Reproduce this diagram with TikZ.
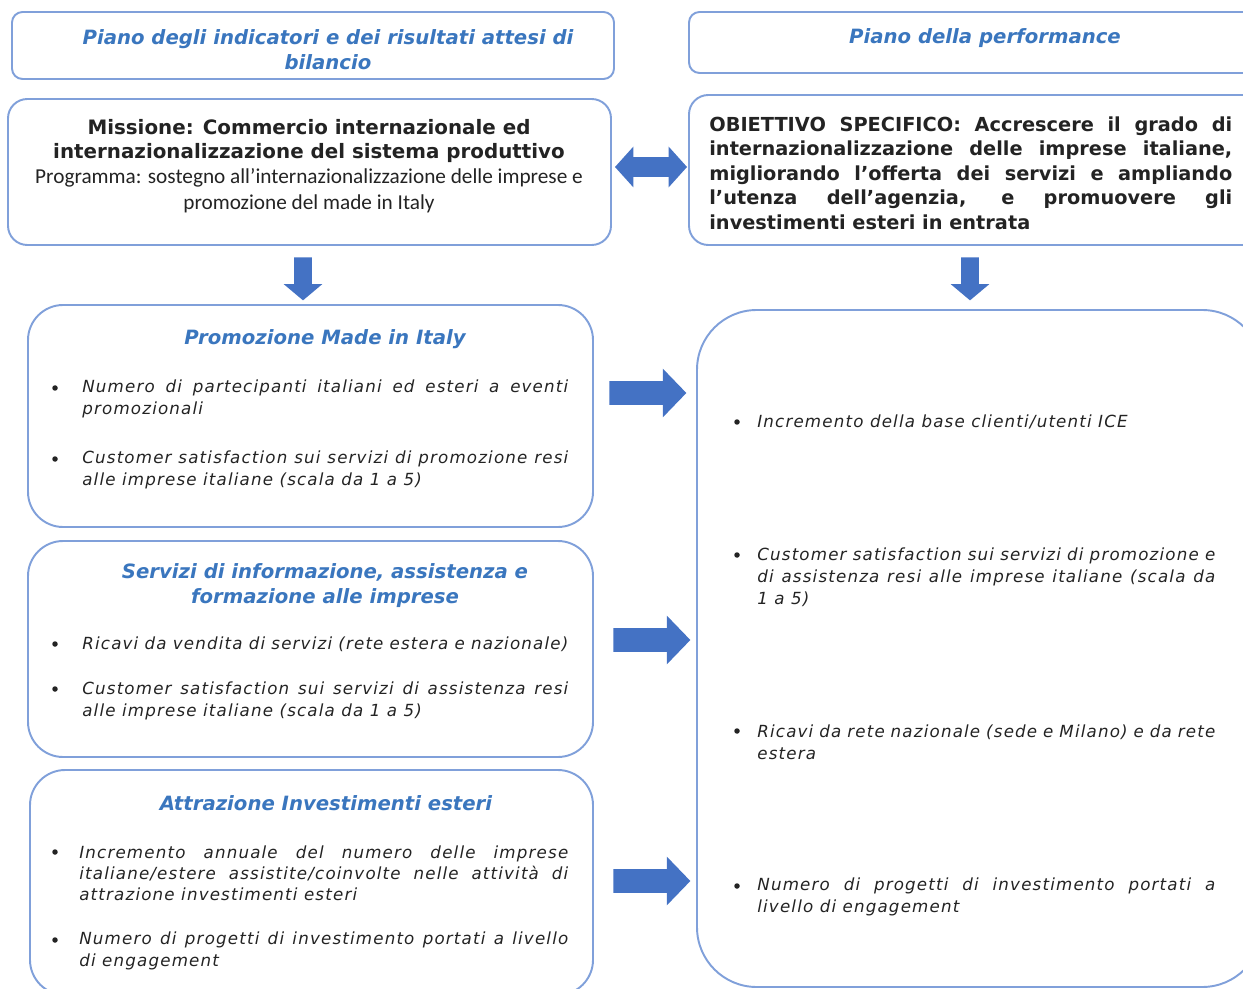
\documentclass[tikz,border=0pt]{standalone}
\usepackage{fontspec}
\setmainfont{DejaVu Sans}
\newfontfamily\calib{Carlito}
\newfontfamily\bulf{DejaVu Sans}[LetterSpace=7]
\usetikzlibrary{shapes.arrows,fit}
\definecolor{boxline}{RGB}{128,160,218}
\definecolor{arrowblue}{RGB}{68,114,196}
\definecolor{titleblue}{RGB}{58,118,190}
\definecolor{txt}{RGB}{35,35,35}
\hyphenpenalty=10000
\exhyphenpenalty=10000
\tolerance=9999
\begin{document}
\begin{tikzpicture}[x=0.02cm,y=-0.02cm,
  box/.style={draw=boxline,line width=1.1pt,rounded corners=#1,inner sep=0pt},
  box/.default=6pt,
  rarrow/.style={single arrow,fill=arrowblue,draw=none,inner xsep=0pt,inner ysep=0.23cm,minimum height=1.54cm,single arrow head extend=0.25cm,single arrow tip angle=92,anchor=tail},
  darrow/.style={single arrow,rotate=-90,fill=arrowblue,draw=none,inner xsep=0pt,inner ysep=0.17cm,minimum height=0.86cm,single arrow head extend=0.21cm,single arrow tip angle=100,anchor=tail},
  dblarrow/.style={double arrow,fill=arrowblue,draw=none,inner xsep=0pt,inner ysep=0.19cm,minimum height=1.44cm,double arrow head extend=0.21cm,double arrow tip angle=96},
  hdr/.style={font=\fontsize{11.2}{14.2}\selectfont\bfseries\itshape,text=titleblue,align=center,inner sep=0pt},
  bul/.style={font=\bulf\fontsize{9.5}{12.5}\selectfont\itshape,text=txt,align=justify,inner sep=0pt,anchor=west},
  dot/.style={circle,fill=txt,inner sep=0pt,minimum size=0.11cm}
]
\useasboundingbox (0,0) rectangle (1243,989);
\clip (0,0) rectangle (1243,989);
% boxes
\node[box=6pt, fit={(12,12) (614,79)}] (hdrL) {};
\node[box=6pt, fit={(689,12) (1262,73)}] (hdrR) {};
\node[box=11pt, fit={(8,99) (611,245)}] (mis) {};
\node[box=11pt, fit={(689,95) (1262,245)}] (obj) {};
\node[box=20pt, fit={(28,305) (593,527)}] (prom) {};
\node[box=20pt, fit={(28,541) (593,757)}] (serv) {};
\node[box=20pt, fit={(30,770) (593,995)}] (attr) {};
\node[box=34pt, fit={(697,310) (1262,987)}] (perf) {};
% arrows
\node[dblarrow] (dbl) at (651,167) {};
\node[darrow] (dL) at (303,257) {};
\node[darrow] (dR) at (970,257) {};
\node[rarrow] (ar1) at (609,393) {};
\node[rarrow] (ar2) at (613,640) {};
\node[rarrow] (ar3) at (613,881) {};
% headers
\node[hdr] (thL) at (328,49.5) {Piano degli indicatori e dei risultati attesi di\\bilancio};
\node[hdr] (thR) at (985,38) {Piano della performance};
% mission
\node[font=\fontsize{11.3}{13.6}\selectfont\bfseries,text=txt,align=center,inner sep=0pt] (mis1) at (309,141) {Missione: Commercio internazionale ed\\internazionalizzazione del sistema produttivo};
\node[font=\calib\fontsize{12.1}{14.7}\selectfont,text=txt,align=center,inner sep=0pt] (mis2) at (309,191) {Programma: sostegno all’internazionalizzazione delle imprese e\\promozione del made in Italy};
% objective
\node[font=\fontsize{11}{13.9}\selectfont\bfseries,text=txt,align=justify,text width=10.46cm,inner sep=0pt,anchor=west] (obj1) at (709,173) {OBIETTIVO SPECIFICO: Accrescere il grado di\linebreak internazionalizzazione delle imprese italiane,\linebreak migliorando l’offerta dei servizi e ampliando\linebreak l’utenza dell’agenzia, e promuovere gli\linebreak investimenti esteri in entrata};
% titles
\node[hdr] (tp) at (325,339) {Promozione Made in Italy};
\node[hdr] (ts) at (325,585.5) {Servizi di informazione, assistenza e\\formazione alle imprese};
\node[hdr] (ta) at (326,803) {Attrazione Investimenti esteri};
% left bullets
\node[dot] (bp1) at (55,388) {};
\node[bul,text width=9.72cm] (p1) at (82,399) {Numero di partecipanti italiani ed esteri a eventi\linebreak promozionali};
\node[dot] (bp2) at (55,459) {};
\node[bul,text width=9.72cm] (p2) at (82,470) {Customer satisfaction sui servizi di promozione resi\linebreak alle imprese italiane (scala da 1 a 5)};
\node[dot] (bs1) at (55,644) {};
\node[bul,text width=9.72cm] (s1) at (82,644) {Ricavi da vendita di servizi (rete estera e nazionale)};
\node[dot] (bs2) at (55,689) {};
\node[bul,text width=9.72cm] (s2) at (82,700.5) {Customer satisfaction sui servizi di assistenza resi\linebreak alle imprese italiane (scala da 1 a 5)};
\node[dot] (ba1) at (55,852) {};
\node[bul,text width=9.78cm,font=\bulf\fontsize{9.5}{12}\selectfont\itshape] (a1) at (79,873.5) {Incremento annuale del numero delle imprese\linebreak italiane/estere assistite/coinvolte nelle attività di\linebreak attrazione investimenti esteri};
\node[dot] (ba2) at (55,940) {};
\node[bul,text width=9.78cm] (a2) at (79,951) {Numero di progetti di investimento portati a livello\linebreak di engagement};
% right bullets
\node[dot] (br1) at (737,422) {};
\node[bul,text width=9.16cm] (r1) at (757,422) {Incremento della base clienti/utenti ICE};
\node[dot] (br2) at (737,555) {};
\node[bul,text width=9.16cm] (r2) at (757,577) {Customer satisfaction sui servizi di promozione e\linebreak di assistenza resi alle imprese italiane (scala da\linebreak 1 a 5)};
\node[dot] (br3) at (737,731) {};
\node[bul,text width=9.16cm] (r3) at (757,742) {Ricavi da rete nazionale (sede e Milano) e da rete\linebreak estera};
\node[dot] (br4) at (737,886) {};
\node[bul,text width=9.16cm] (r4) at (757,897) {Numero di progetti di investimento portati a\linebreak livello di engagement};
\end{tikzpicture}
\end{document}
